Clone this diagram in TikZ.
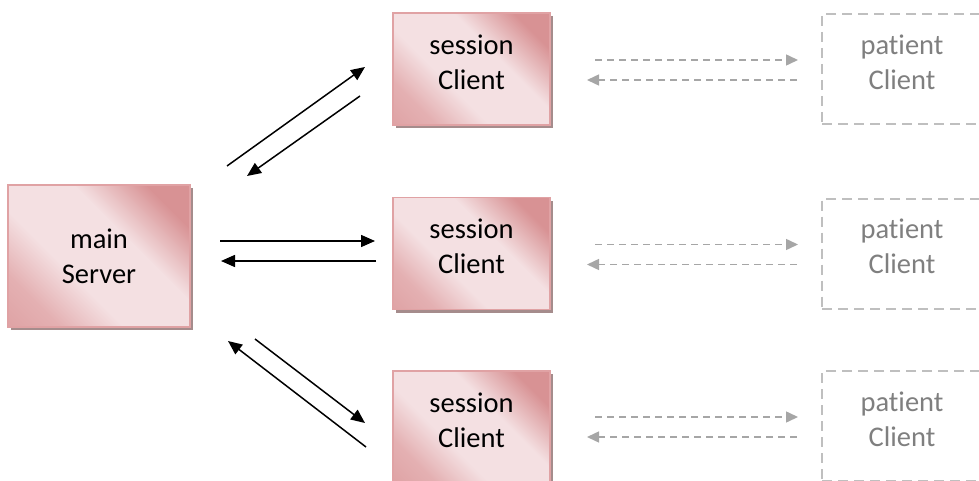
\documentclass[tikz,border=0pt]{standalone}
\usepackage{fontspec}
\setmainfont{Carlito}[RawFeature={-liga}]
\usetikzlibrary{arrows.meta,shadows}
\definecolor{pdark}{RGB}{216,146,148}
\definecolor{pmid}{RGB}{228,176,178}
\definecolor{plight}{RGB}{244,224,226}
\definecolor{pedge}{RGB}{224,162,164}
\definecolor{pshadow}{RGB}{165,140,140}
\definecolor{dgray}{RGB}{166,166,166}
\definecolor{bgray}{RGB}{191,191,191}
\definecolor{tgray}{RGB}{127,127,127}
\pgfdeclarehorizontalshading{pinkglow}{100bp}{color(0bp)=(pdark); color(26bp)=(pmid); color(40bp)=(plight); color(60bp)=(plight); color(76bp)=(pdark); color(100bp)=(pdark)}
% extra depth below the last line lifts a two-line label
\newcommand{\liftpad}{\rule[-14pt]{0pt}{0pt}}

\begin{document}
\begin{tikzpicture}[x=1pt,y=-1pt,
  boxtext/.style={align=center, inner sep=0pt, font=\fontsize{28.5}{35}\selectfont},
  pinkbox/.style={boxtext, draw=pedge, line width=1.5pt, shading=pinkglow, shading angle=45,
    drop shadow={shadow xshift=3pt, shadow yshift=-3pt, fill=pshadow, opacity=1},
    minimum width=157pt, minimum height=112pt},
  ghostbox/.style={boxtext, draw=bgray, line width=2pt, dash pattern=on 10pt off 6pt,
    text=tgray, minimum width=160pt, minimum height=110pt},
  link/.style={line width=1.5pt, -{Triangle[length=14pt,width=12pt]}},
  ghostlink/.style={dgray, line width=1.5pt, dash pattern=on 7pt off 5pt,
    -{Triangle[length=12pt,width=11pt]}}]
\useasboundingbox (0,0) rectangle (979,481);

% server and session clients
\node[pinkbox, minimum width=182pt, minimum height=142pt] (main) at (99,256) {main\\Server};
\node[pinkbox] (s1) at (471.5,69) {session\\Client\liftpad};
\node[pinkbox] (s2) at (471.5,253.5) {session\\Client\liftpad};
\node[pinkbox] (s3) at (471.5,427) {session\\Client\liftpad};

% patient clients
\node[ghostbox] (p1) at (902,69) {patient\\Client\liftpad};
\node[ghostbox] (p2) at (902,253.5) {patient\\Client\liftpad};
\node[ghostbox] (p3) at (902,426) {patient\\Client\liftpad};

% arrow end points
\coordinate (m1o) at (227,166); \coordinate (s1i) at (365,67);
\coordinate (s1o) at (360,96);  \coordinate (m1i) at (247,176);
\coordinate (m2o) at (220,241); \coordinate (s2i) at (375,241);
\coordinate (s2o) at (376,261); \coordinate (m2i) at (221,261);
\coordinate (m3o) at (255,339); \coordinate (s3i) at (365,423);
\coordinate (s3o) at (366,447); \coordinate (m3i) at (228,341);

\draw[link] (m1o) -- (s1i);
\draw[link] (s1o) -- (m1i);
\draw[link] (m2o) -- (s2i);
\draw[link] (s2o) -- (m2i);
\draw[link] (m3o) -- (s3i);
\draw[link] (s3o) -- (m3i);

% session to patient links
\foreach \r/\cy in {1/69, 2/253.5, 3/426} {
  \coordinate (sp\r a) at (595,\cy-9);  \coordinate (sp\r b) at (798,\cy-9);
  \coordinate (ps\r a) at (797,\cy+11); \coordinate (ps\r b) at (587,\cy+11);
  \draw[ghostlink] (sp\r a) -- (sp\r b);
  \draw[ghostlink] (ps\r a) -- (ps\r b);
}
\end{tikzpicture}
\end{document}
